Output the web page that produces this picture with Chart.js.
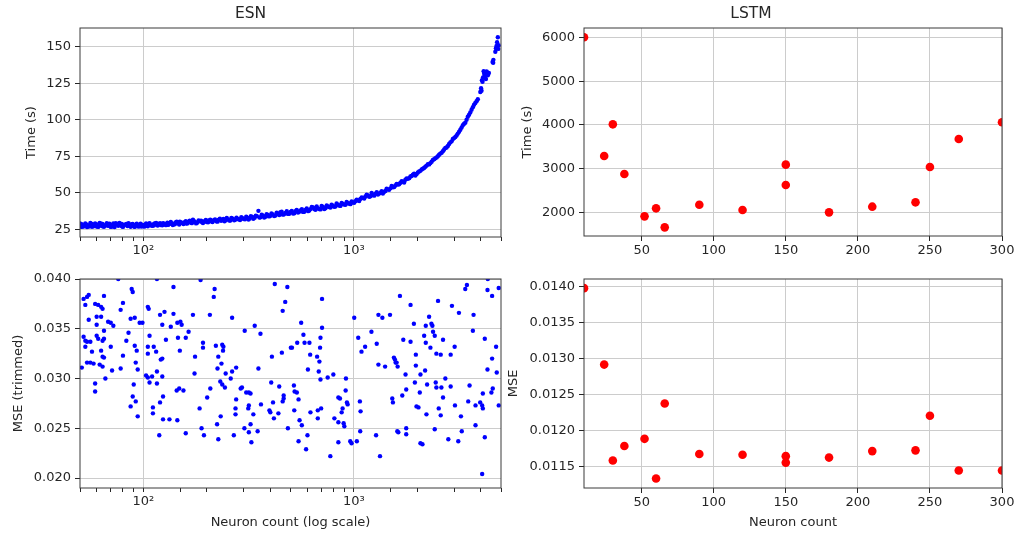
<!DOCTYPE html>
<html>
<head>
<meta charset="utf-8">
<script src="https://cdn.jsdelivr.net/npm/chart.js@4.4.0/dist/chart.umd.min.js"></script>
<style>
  html, body { margin: 0; padding: 0; background: #fff; }
  body { width: 1026px; height: 535px; position: relative; overflow: hidden; }
  .panel { position: absolute; }
</style>
</head>
<body>
<div class="panel" style="left:0;top:0;width:512px;height:262px"><canvas id="esnTime"></canvas></div>
<div class="panel" style="left:0;top:262px;width:512px;height:273px"><canvas id="esnMse"></canvas></div>
<div class="panel" style="left:500px;top:0;width:526px;height:262px"><canvas id="lstmTime"></canvas></div>
<div class="panel" style="left:500px;top:262px;width:526px;height:273px"><canvas id="lstmMse"></canvas></div>
<script>
const FONT = 'DejaVu Sans';
const TEXT = '#262626';
const GRID = '#cccccc';

// ESN: training time vs neuron count
const esnTimeN = [
  50, 51, 52, 53, 54, 55, 56, 57, 58, 59, 60, 61, 62, 63, 64, 66, 67, 68, 70, 71,
  73, 74, 76, 78, 79, 81, 83, 84, 86, 88, 90, 92, 94, 96, 98, 100, 102, 104, 106, 108,
  111, 113, 116, 118, 121, 124, 127, 130, 133, 136, 139, 142, 146, 149, 153, 157, 160, 164, 168, 172,
  176, 180, 185, 190, 195, 200, 205, 211, 216, 222, 228, 234, 240, 246, 252, 259, 266, 273, 280, 288,
  296, 304, 312, 320, 329, 338, 346, 352, 360, 370, 380, 390, 400, 412, 424, 436, 448, 460, 473, 486,
  500, 514, 528, 543, 558, 573, 589, 606, 622, 640, 657, 675, 694, 713, 733, 753, 774, 795, 817, 840,
  863, 887, 912, 937, 963, 990, 1017, 1045, 1074, 1104, 1135, 1166, 1199, 1232, 1266, 1301, 1337, 1374, 1412, 1451,
  1491, 1533, 1575, 1619, 1664, 1710, 1757, 1806, 1856, 1907, 1960, 2014, 2070, 2127, 2186, 2247, 2309, 2373, 2439, 2506,
  2576, 2647, 2720, 2796, 2873, 2953, 3034, 3118, 3205, 3293, 3385, 3478, 3574, 3673, 3775, 3880, 3987, 4020, 4060, 4110,
  4160, 4210, 4270, 4330, 4380, 4560, 4600, 4700, 4730, 4790, 4830, 4870,
  50, 51, 53, 54, 56, 57, 59, 61, 62, 64, 65, 67, 69, 70, 72, 73, 75, 77, 79, 80,
  82, 85, 87, 89, 91, 93, 95, 97, 99, 101, 103, 105, 107, 110, 112, 115, 117, 120, 123, 125,
  128, 131, 135, 138, 141, 144, 148, 151, 155, 159, 162, 166, 170, 174, 178, 183, 188, 192, 198, 203,
  208, 213, 219, 225, 231, 237, 243, 249, 256, 262, 270, 277, 284, 292, 300, 308, 316, 324, 333, 342,
  356, 365, 375, 385, 395, 406, 418, 430, 442, 454, 466, 480, 493, 507, 521, 535, 550, 566, 581, 597,
  614, 631, 648, 666, 684, 703, 723, 743, 763, 784, 806, 828, 851, 875, 899, 924, 950, 976, 1003, 1031,
  1060, 1089, 1120, 1150, 1183, 1215, 1249, 1284, 1319, 1355, 1393, 1431, 1470, 1512, 1554, 1597, 1641, 1687, 1733, 1781,
  1831, 1881, 1933, 1987, 2042, 2098, 2156, 2216, 2278, 2341, 2406, 2472, 2540, 2611, 2683, 2758, 2834, 2913, 2993, 3076,
  3161, 3249, 3340, 3431, 3526, 3624, 3724, 3828, 4040, 4085, 4135, 4185, 4240, 4300, 4590, 4760, 4850
];
const esnTime = [
  27.2, 28.4, 26.9, 27.8, 28.1, 26.8, 27.5, 28.6, 27.1, 27.9, 26.9, 28.3, 27.4, 28.8, 27.0, 27.7, 29.1, 27.3, 28.0, 26.9,
  27.8, 29.2, 27.4, 28.3, 27.0, 27.9, 28.7, 27.2, 27.6, 28.4, 27.1, 27.9, 27.3, 28.1, 26.9, 27.5, 28.2, 27.4, 28.6, 27.8,
  28.3, 29.0, 28.0, 28.7, 27.9, 29.2, 28.4, 29.5, 28.6, 29.1, 28.5, 29.7, 29.0, 30.1, 29.3, 29.8, 28.9, 30.2, 29.6, 31.6,
  30.0, 29.4, 30.4, 29.8, 30.6, 30.0, 31.0, 30.3, 31.2, 30.5, 31.6, 30.8, 32.0, 31.2, 31.8, 31.0, 32.3, 31.5, 32.0, 31.3,
  32.6, 31.8, 33.0, 32.4, 33.5, 32.8, 34.0, 37.6, 33.2, 34.3, 33.6, 34.8, 34.0, 35.2, 34.4, 35.6, 36.6, 35.0, 36.2, 35.5,
  36.8, 35.8, 37.3, 36.4, 37.8, 36.9, 38.2, 37.4, 38.8, 40.0, 38.4, 39.3, 38.6, 40.2, 39.4, 40.7, 39.9, 41.1, 40.5, 41.8,
  41.0, 42.3, 41.7, 42.8, 42.2, 43.4, 44.2, 44.9, 45.8, 46.5, 47.4, 48.1, 47.6, 48.4, 49.3, 48.8, 50.0, 49.5, 51.2, 52.3,
  53.0, 53.8, 55.0, 55.6, 56.8, 57.6, 58.9, 59.5, 61.2, 62.3, 61.8, 63.9, 65.0, 66.4, 67.8, 69.5, 70.3, 72.4, 73.6, 75.0,
  76.8, 78.4, 80.7, 82.0, 84.5, 86.8, 88.2, 90.5, 93.1, 96.2, 98.0, 102.0, 105.0, 108.6, 111.4, 114.0, 119.0, 121.5, 127.0, 129.0,
  131.5, 128.5, 133.0, 130.4, 132.0, 139.5, 141.0, 146.5, 149.0, 153.0, 156.5, 151.0,
  29.0, 26.6, 28.9, 26.5, 29.3, 26.7, 28.9, 26.6, 29.4, 28.6, 26.7, 27.9, 28.8, 26.6, 29.0, 26.5, 28.5, 29.3, 28.6, 26.6,
  28.2, 29.1, 26.7, 28.7, 26.6, 28.8, 26.8, 28.8, 27.9, 26.8, 28.9, 27.0, 29.2, 27.3, 27.6, 29.4, 27.5, 29.1, 27.7, 28.8,
  27.8, 28.0, 30.0, 27.9, 28.4, 30.2, 28.3, 29.6, 28.6, 30.6, 29.0, 30.8, 29.2, 30.6, 29.0, 31.0, 30.9, 29.3, 31.3, 29.8,
  31.6, 29.9, 31.7, 30.2, 32.2, 31.3, 30.5, 32.7, 31.0, 32.8, 31.1, 33.0, 31.8, 33.3, 32.0, 33.6, 31.6, 33.9, 32.2, 34.3,
  33.0, 35.0, 33.1, 35.3, 33.8, 35.8, 34.0, 36.4, 34.7, 37.0, 35.2, 37.3, 35.6, 37.6, 36.0, 38.3, 37.0, 38.8, 37.0, 39.2,
  37.8, 40.3, 38.8, 40.6, 38.9, 41.0, 38.9, 41.3, 40.2, 41.8, 40.4, 42.6, 41.3, 43.0, 42.0, 43.7, 42.6, 44.0, 43.2, 45.3,
  44.4, 46.8, 46.0, 48.6, 47.3, 49.8, 48.0, 50.3, 49.4, 51.0, 50.6, 52.8, 52.0, 54.6, 53.9, 56.0, 55.8, 57.9, 57.0, 59.8,
  60.0, 61.5, 63.0, 62.8, 64.6, 65.9, 67.0, 68.6, 69.4, 71.2, 73.0, 74.2, 76.0, 77.4, 79.6, 81.0, 83.4, 85.2, 87.4, 89.2,
  91.8, 94.6, 97.2, 100.0, 103.4, 106.8, 110.2, 112.6, 119.8, 126.0, 133.2, 130.0, 127.8, 132.4, 139.0, 150.5, 148.5
];

// ESN: trimmed MSE vs neuron count
const esnMseN = [
  139, 88, 89, 55, 54, 52, 53, 65, 59, 61, 63, 64, 80, 78, 105, 106, 120, 126, 139, 55,
  60, 63, 60, 68, 70, 72, 87, 91, 96, 99, 123, 135, 145, 150, 152, 65, 85, 107, 52, 53,
  54, 56, 53, 60, 61, 64, 65, 70, 83, 91, 93, 105, 112, 105, 115, 128, 146, 149, 57, 63,
  64, 65, 80, 123, 121, 51, 54, 56, 58, 62, 64, 71, 78, 92, 94, 116, 103, 105, 110, 123,
  107, 116, 66, 59, 59, 90, 144, 148, 89, 92, 87, 124, 120, 94, 111, 111, 124, 133, 145, 119,
  76, 116,
  187, 421, 483, 218, 216, 472, 459, 172, 207, 264, 338, 303, 360, 164, 159, 192, 192, 221, 237, 240,
  239, 408, 455, 502, 176, 227, 235, 225, 246, 264, 276, 352, 175, 260, 232, 237, 244, 405, 442, 155,
  208, 290, 294, 308, 317, 323, 201, 276, 464, 464, 459, 413, 317, 315, 362, 274, 274, 185, 397, 401,
  438, 417, 333, 233, 224, 189, 302, 323, 486, 159, 194, 317, 349, 269, 227, 326,
  706, 1004, 1308, 1366, 1485, 562, 706, 576, 694, 538, 583, 615, 508, 691, 620, 669, 686, 605, 681, 694,
  751, 799, 917, 1049, 1131, 1087, 1212, 1284, 1308, 1407, 1550, 1579, 519, 523, 536, 546, 914, 844, 859, 1068,
  1076, 927, 934, 884, 875, 1522, 1533, 521, 622, 674, 699, 674, 552, 566, 808, 844, 894, 901, 1072, 1608,
  602, 1275, 546, 844, 961, 975, 1033, 593, 773, 1331,
  4328, 3444, 3382, 4877, 4313, 4536, 1655, 1859, 2511, 2924, 3156, 3703, 2277, 2196, 2336, 2361, 1928, 2378, 2422, 2157,
  1717, 1859, 2652, 3011, 3676, 4188, 2196, 2310, 4738, 2466, 2586, 1970, 2883, 4536, 1567, 1596, 1614, 1970, 2180, 2072,
  4313, 4773, 1760, 2720, 1949, 2228, 2448, 2466, 2605, 2883, 3545, 1773, 4569, 4503, 2057, 1698, 4099, 2652, 3494, 3982,
  4069, 4099, 3784, 1984, 2027, 3022, 2530, 2586, 2212, 3226, 4877, 1773, 1626, 1773, 2422, 3784, 3256, 4188, 2810, 3133,
  2072, 2118, 4069
];
const esnMse = [
  0.0392, 0.0390, 0.0387, 0.0384, 0.0382, 0.0380, 0.0374, 0.0383, 0.0375, 0.0374, 0.0372, 0.0370, 0.0376, 0.0369, 0.0372, 0.0370, 0.0364, 0.0367, 0.0365, 0.0359,
  0.0362, 0.0362, 0.0354, 0.0357, 0.0356, 0.0353, 0.0360, 0.0361, 0.0356, 0.0356, 0.0354, 0.0352, 0.0356, 0.0357, 0.0354, 0.0348, 0.0346, 0.0343, 0.0342, 0.0338,
  0.0337, 0.0337, 0.0332, 0.0343, 0.0340, 0.0338, 0.0340, 0.0332, 0.0338, 0.0333, 0.0328, 0.0332, 0.0332, 0.0325, 0.0327, 0.0339, 0.0341, 0.0328, 0.0327, 0.0328,
  0.0322, 0.0321, 0.0323, 0.0320, 0.0319, 0.0311, 0.0316, 0.0316, 0.0315, 0.0314, 0.0312, 0.0308, 0.0310, 0.0316, 0.0309, 0.0307, 0.0303, 0.0301, 0.0302, 0.0302,
  0.0296, 0.0295, 0.0300, 0.0295, 0.0287, 0.0294, 0.0288, 0.0290, 0.0282, 0.0277, 0.0272, 0.0282, 0.0276, 0.0262, 0.0271, 0.0265, 0.0259, 0.0259, 0.0258, 0.0243,
  0.0400, 0.0400,
  0.0399, 0.0395, 0.0392, 0.0390, 0.0382, 0.0377, 0.0368, 0.0364, 0.0364, 0.0361, 0.0353, 0.0348, 0.0345, 0.0347, 0.0341, 0.0336, 0.0331, 0.0333, 0.0334, 0.0332,
  0.0328, 0.0322, 0.0326, 0.0331, 0.0322, 0.0322, 0.0315, 0.0310, 0.0305, 0.0307, 0.0311, 0.0310, 0.0305, 0.0300, 0.0297, 0.0294, 0.0291, 0.0296, 0.0292, 0.0288,
  0.0290, 0.0290, 0.0291, 0.0286, 0.0286, 0.0285, 0.0281, 0.0279, 0.0283, 0.0280, 0.0277, 0.0276, 0.0273, 0.0270, 0.0274, 0.0270, 0.0264, 0.0270, 0.0268, 0.0266,
  0.0265, 0.0260, 0.0264, 0.0262, 0.0254, 0.0250, 0.0250, 0.0254, 0.0250, 0.0245, 0.0243, 0.0246, 0.0247, 0.0243, 0.0239, 0.0236,
  0.0380, 0.0361, 0.0364, 0.0361, 0.0364, 0.0356, 0.0351, 0.0344, 0.0341, 0.0336, 0.0336, 0.0336, 0.0331, 0.0331, 0.0324, 0.0322, 0.0317, 0.0309, 0.0307, 0.0299,
  0.0301, 0.0304, 0.0300, 0.0341, 0.0332, 0.0327, 0.0347, 0.0335, 0.0314, 0.0312, 0.0321, 0.0316, 0.0293, 0.0287, 0.0286, 0.0279, 0.0288, 0.0281, 0.0280, 0.0277,
  0.0267, 0.0276, 0.0274, 0.0270, 0.0266, 0.0280, 0.0276, 0.0268, 0.0266, 0.0268, 0.0270, 0.0260, 0.0258, 0.0253, 0.0260, 0.0256, 0.0255, 0.0252, 0.0247, 0.0247,
  0.0243, 0.0243, 0.0237, 0.0236, 0.0237, 0.0235, 0.0237, 0.0229, 0.0222, 0.0222,
  0.0400, 0.0394, 0.0390, 0.0391, 0.0389, 0.0383, 0.0383, 0.0374, 0.0378, 0.0373, 0.0366, 0.0364, 0.0362, 0.0353, 0.0355, 0.0353, 0.0355, 0.0347, 0.0343, 0.0343,
  0.0339, 0.0337, 0.0339, 0.0332, 0.0348, 0.0340, 0.0336, 0.0331, 0.0332, 0.0325, 0.0324, 0.0324, 0.0324, 0.0320, 0.0319, 0.0316, 0.0312, 0.0313, 0.0308, 0.0304,
  0.0309, 0.0306, 0.0304, 0.0300, 0.0296, 0.0294, 0.0296, 0.0291, 0.0291, 0.0292, 0.0293, 0.0289, 0.0290, 0.0286, 0.0286, 0.0283, 0.0285, 0.0281, 0.0277, 0.0276,
  0.0273, 0.0270, 0.0273, 0.0272, 0.0271, 0.0273, 0.0270, 0.0263, 0.0264, 0.0262, 0.0273, 0.0250, 0.0246, 0.0244, 0.0249, 0.0253, 0.0247, 0.0241, 0.0239, 0.0237,
  0.0235, 0.0234, 0.0204
];

const esnMajorTicks = [100, 1000];
const esnMajorLabels = ['10²', '10³'];
const esnTimeTicks = [25, 50, 75, 100, 125, 150];
const esnMseTicks = [0.020, 0.025, 0.030, 0.035, 0.040];

// LSTM
const lstmN = [10, 24, 30, 38, 52, 60, 66, 90, 120, 150, 150, 180, 210, 240, 250, 270, 300];
const lstmTime = [6000, 3293, 4015, 2882, 1916, 2099, 1665, 2182, 2061, 3095, 2631, 2007, 2137, 2236, 3042, 3680, 4061];
const lstmMse = [0.01398, 0.01292, 0.01159, 0.01179, 0.01189, 0.01134, 0.01238, 0.01168, 0.01167, 0.01165, 0.01156,
  0.01163, 0.01172, 0.01173, 0.01221, 0.01145, 0.01145];
const lstmNTicks = [50, 100, 150, 200, 250, 300];
const lstmTimeTicks = [2000, 3000, 4000, 5000, 6000];
const lstmMseTicks = [0.0115, 0.0120, 0.0125, 0.0130, 0.0135, 0.0140];

const frame = {
  id: 'frame',
  afterDraw(chart) {
    const { ctx, chartArea: a } = chart;
    ctx.save();
    ctx.strokeStyle = '#3a3a3a';
    ctx.lineWidth = 1;
    ctx.strokeRect(a.left, a.top, a.right - a.left, a.bottom - a.top);
    ctx.restore();
  }
};

const font = size => ({ family: FONT, size });
const points = (xs, ys) => xs.map((x, i) => ({ x, y: ys[i] }));

function fixedTicks(list) {
  return s => { s.ticks = list.map(value => ({ value })); };
}

function yAxis(ticks, min, max, fmt, title, titlePad, width) {
  return {
    type: 'linear', min, max, z: 1,
    afterFit: s => { s.width = width; },
    afterBuildTicks: fixedTicks(ticks),
    grid: { color: GRID, tickColor: TEXT, tickLength: 5 },
    border: { display: false },
    ticks: { color: TEXT, font: font(13), padding: 4, callback: fmt },
    title: { display: true, text: title, color: TEXT, font: font(13), padding: { top: titlePad, bottom: 0 } }
  };
}

function xTitle(text) {
  return text
    ? { display: true, text, color: TEXT, font: font(13), padding: { top: 0, bottom: 5 } }
    : { display: false };
}

function logAxis(height, title) {
  const isMajor = v => esnMajorTicks.some(t => Math.abs(t - v) < 1e-6);
  return {
    type: 'logarithmic', min: 50, max: 5000, z: 1,
    afterFit: s => { s.height = height; },
    grid: {
      color: c => (c.tick && isMajor(c.tick.value)) ? GRID : 'rgba(0,0,0,0)',
      tickColor: TEXT, tickLength: 4
    },
    border: { display: false },
    ticks: {
      autoSkip: false, maxRotation: 0, color: TEXT, font: font(13), padding: 2,
      callback: v => {
        const i = esnMajorTicks.findIndex(t => Math.abs(t - v) < 1e-6);
        return i >= 0 ? esnMajorLabels[i] : '';
      }
    },
    title: xTitle(title)
  };
}

function linAxis(height, title) {
  return {
    type: 'linear', min: 10, max: 300, z: 1,
    afterFit: s => { s.height = height; },
    afterBuildTicks: fixedTicks(lstmNTicks),
    grid: { color: GRID, tickColor: TEXT, tickLength: 5 },
    border: { display: false },
    ticks: { autoSkip: false, maxRotation: 0, color: TEXT, font: font(13), padding: 2 },
    title: xTitle(title)
  };
}

function makeChart(id, data, color, radius, x, y, padding, title) {
  return new Chart(document.getElementById(id), {
    type: 'scatter',
    data: {
      datasets: [{
        data,
        pointBackgroundColor: color,
        pointBorderColor: color,
        pointBorderWidth: 0,
        pointRadius: radius,
        clip: 0
      }]
    },
    options: {
      responsive: true,
      maintainAspectRatio: false,
      animation: false,
      events: [],
      layout: { padding },
      scales: { x, y },
      plugins: {
        legend: { display: false },
        tooltip: { enabled: false },
        title: title
          ? { display: true, text: title, color: TEXT, font: { family: FONT, size: 15.5, weight: 'normal' }, padding: { top: 4.5, bottom: 4.9 } }
          : { display: false }
      }
    },
    plugins: [frame]
  });
}

makeChart('esnTime', points(esnTimeN, esnTime), '#0000ff', 2.2,
  logAxis(25, null),
  yAxis(esnTimeTicks, 19.7, 162.8, v => String(v), 'Time (s)', 24, 80),
  { left: 0, right: 11, top: 0, bottom: 0 }, 'ESN');

makeChart('esnMse', points(esnMseN, esnMse), '#0000ff', 2.2,
  logAxis(47, 'Neuron count (log scale)'),
  yAxis(esnMseTicks, 0.019, 0.040, v => v.toFixed(3), 'MSE (trimmed)', 11, 80),
  { left: 0, right: 11, top: 17, bottom: 0 }, null);

makeChart('lstmTime', points(lstmN, lstmTime), '#ff0000', 4.3,
  linAxis(26, null),
  yAxis(lstmTimeTicks, 1468, 6212, v => String(v), 'Time (s)', 20, 84),
  { left: 0, right: 24, top: 0, bottom: 0 }, 'LSTM');

makeChart('lstmMse', points(lstmN, lstmMse), '#ff0000', 4.3,
  linAxis(47, 'Neuron count'),
  yAxis(lstmMseTicks, 0.011208, 0.014107, v => v.toFixed(4), 'MSE', 6, 84),
  { left: 0, right: 24, top: 17, bottom: 0 }, null);
</script>
</body>
</html>
